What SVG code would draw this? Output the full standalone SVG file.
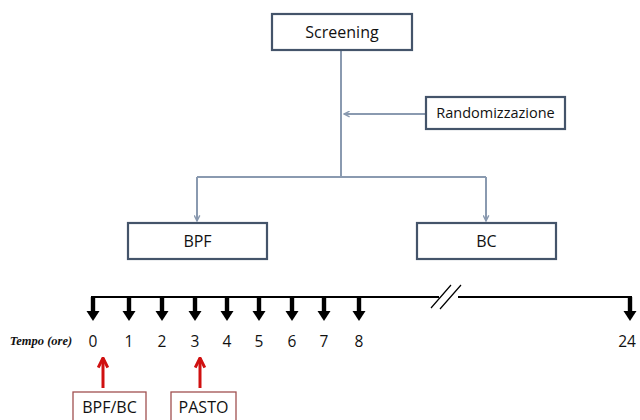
<svg xmlns="http://www.w3.org/2000/svg" width="640" height="420" viewBox="0 0 640 420">
<defs>
<style>
.box{fill:#fff;stroke:#44546A;stroke-width:2.2}
.rbox{fill:#fff;stroke:#A05050;stroke-width:1.3}
.lbl{font-family:"Open Sans","Liberation Sans",sans-serif;font-size:16px;fill:#111;text-anchor:middle}
.num{font-family:"Open Sans","Liberation Sans",sans-serif;font-size:15.5px;fill:#111;text-anchor:middle}
.con{stroke:#8A9AB0;stroke-width:2;fill:none}
.tl{stroke:#000;stroke-width:2;fill:none}
.red{stroke:#D01010;stroke-width:3;fill:none}
</style>
<marker id="ga" viewBox="0 0 10 10" refX="9" refY="5" markerWidth="7" markerHeight="7" orient="auto" markerUnits="userSpaceOnUse">
<path d="M1,1 L9,5 L1,9" fill="none" stroke="#8A9AB0" stroke-width="2"/>
</marker>
<marker id="ra" viewBox="0 0 10 10" refX="9" refY="5" markerWidth="12" markerHeight="12" orient="auto" markerUnits="userSpaceOnUse">
<path d="M1,1 L9,5 L1,9" fill="none" stroke="#D01010" stroke-width="2.5"/>
</marker>
<g id="tick">
<rect x="-2.2" y="0" width="4.4" height="16" fill="#000"/>
<path d="M-6.5,14 L6.5,14 L0,24 Z" fill="#000"/>
</g>
</defs>
<rect width="640" height="420" fill="#fff"/>
<g id="connectors">
<path class="con" d="M341,50 V177"/>
<path class="con" d="M426,114 H344" marker-end="url(#ga)"/>
<path class="con" d="M197,177 H486"/>
<path class="con" d="M197,177 V221" marker-end="url(#ga)"/>
<path class="con" d="M486,177 V221" marker-end="url(#ga)"/>
<path class="red" d="M103,388 V358" marker-end="url(#ra)"/>
<path class="red" d="M200,388 V358" marker-end="url(#ra)"/>
</g>
<g id="screening"><rect class="box" x="272" y="14" width="140" height="36"/><text class="lbl" x="342" y="38">Screening</text></g>
<g id="randomizzazione"><rect class="box" x="426" y="97" width="139" height="32"/><text class="lbl" x="495.5" y="118" style="font-size:14.5px">Randomizzazione</text></g>
<g id="bpf"><rect class="box" x="128" y="223" width="139" height="36"/><text class="lbl" x="197.5" y="247">BPF</text></g>
<g id="bc"><rect class="box" x="417" y="223" width="139" height="36"/><text class="lbl" x="486.5" y="247">BC</text></g>
<g id="timeline">
<path class="tl" d="M91,297 H439 M458,297 H632"/>
<path d="M431,308 L451,285 M440,309 L461,285" stroke="#000" stroke-width="1.2"/>
<use href="#tick" x="93" y="297"/>
<use href="#tick" x="129" y="297"/>
<use href="#tick" x="162" y="297"/>
<use href="#tick" x="195" y="297"/>
<use href="#tick" x="227" y="297"/>
<use href="#tick" x="259" y="297"/>
<use href="#tick" x="292" y="297"/>
<use href="#tick" x="324" y="297"/>
<use href="#tick" x="359" y="297"/>
<use href="#tick" x="630" y="297"/>
<text x="41" y="345" font-family="'Liberation Serif',serif" font-size="12.5" font-style="italic" font-weight="bold" text-anchor="middle" fill="#111">Tempo (ore)</text>
<text class="num" x="93" y="347">0</text>
<text class="num" x="129" y="347">1</text>
<text class="num" x="162" y="347">2</text>
<text class="num" x="195" y="347">3</text>
<text class="num" x="227" y="347">4</text>
<text class="num" x="259" y="347">5</text>
<text class="num" x="292" y="347">6</text>
<text class="num" x="324" y="347">7</text>
<text class="num" x="359" y="347">8</text>
<text class="num" x="627" y="347">24</text>
</g>
<g id="bpfbc"><rect class="rbox" x="73" y="392" width="73" height="34"/><text class="lbl" x="109.5" y="413">BPF/BC</text></g>
<g id="pasto"><rect class="rbox" x="171" y="392" width="65" height="34"/><text class="lbl" x="203.5" y="413">PASTO</text></g>
</svg>
